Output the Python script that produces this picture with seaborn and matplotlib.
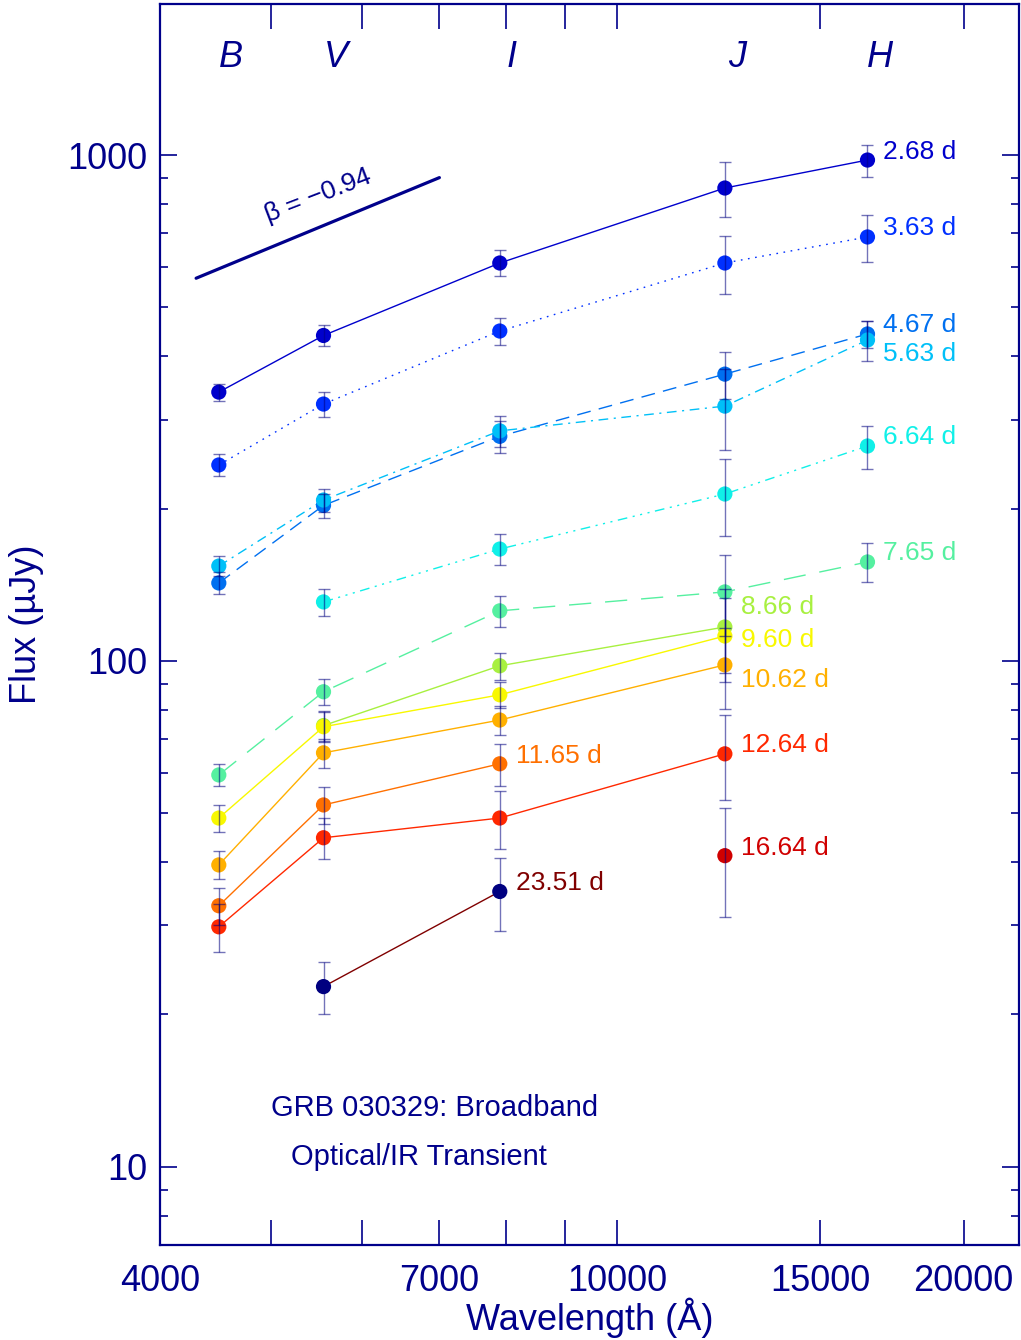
import numpy as np
import pandas as pd
import matplotlib
matplotlib.use("Agg")
import matplotlib.pyplot as plt
import seaborn as sns
from matplotlib.ticker import FixedLocator, FuncFormatter, LogLocator, NullLocator, NullFormatter

# ---------------- data ----------------
bands = ["B", "V", "I", "J", "H"]
wavelengths = [4500, 5550, 7900, 12400, 16500]

epochs = ["2.68 d", "3.63 d", "4.67 d", "5.63 d", "6.64 d", "7.65 d", "8.66 d",
          "9.60 d", "10.62 d", "11.65 d", "12.64 d", "16.64 d", "23.51 d"]

nan = np.nan
flux_268 = [340, 440, 612, 861, 978]
flux_363 = [244, 322, 449, 612, 689]
flux_467 = [142.6, 203, 278, 369, 443]
flux_563 = [154, 208, 285, 319, 431]
flux_664 = [nan, 130.8, 166.4, 213.8, 266]
flux_765 = [59.5, 86.9, 125.6, 136.9, 156.9]
flux_866 = [nan, 74.5, 97.8, 116.7, nan]
flux_960 = [48.9, 74.1, 85.7, 112.0, nan]
flux_1062 = [39.5, 65.8, 76.4, 98.2, nan]
flux_1165 = [32.8, 51.9, 62.6, nan, nan]
flux_1264 = [29.8, 44.7, 48.9, 65.5, nan]
flux_1664 = [nan, nan, nan, 41.2, nan]
flux_2351 = [nan, 22.7, 35.0, nan, nan]

err_268 = [13, 21, 36, 108, 71]
err_363 = [12, 18, 27, 80, 73]
err_467 = [7, 11, 20, 39, 28]
err_563 = [7, 11, 20, 58, 39]
err_664 = [nan, 8, 12, 37, 26]
err_765 = [3, 5, 9, 25, 14]
err_866 = [nan, 5, 6, 22, nan]
err_960 = [3, 5, 5, 21, nan]
err_1062 = [2.5, 4.3, 4.9, 18, nan]
err_1165 = [2.8, 4.3, 6, nan, nan]
err_1264 = [3.2, 4.2, 6.4, 12.5, nan]
err_1664 = [nan, nan, nan, 10.0, nan]
err_2351 = [nan, 2.7, 5.7, nan, nan]

fluxes = [flux_268, flux_363, flux_467, flux_563, flux_664, flux_765, flux_866,
          flux_960, flux_1062, flux_1165, flux_1264, flux_1664, flux_2351]
errors = [err_268, err_363, err_467, err_563, err_664, err_765, err_866,
          err_960, err_1062, err_1165, err_1264, err_1664, err_2351]

beta = 0.94
beta_lam = [4300, 7000]
beta_f0 = 571

# ---------------- styles ----------------
line_colors = ["#0000CC", "#0030FF", "#0070F0", "#00C0F8", "#10F0E8", "#55F0A0",
               "#A8F040", "#F8F800", "#FFB000", "#FF7000", "#FF2800", "#D00000", "#800000"]
marker_colors = line_colors[:-1] + ["#000080"]
dash_styles = ["", (1.2, 4), (10, 6), (7, 4, 1.5, 4), (7, 4, 1.5, 4, 1.5, 4, 1.5, 4),
               (16, 10), "", "", "", "", "", "", ""]
# label offsets in pixels (dy) relative to last point
label_dy = [8, 9, 9, -14, 9, 9, 20, -4, -15, 8, 9, 8, 8]

navy = "#00008B"

rows = []
for ep, fl, er in zip(epochs, fluxes, errors):
    for b, wl, f, e in zip(bands, wavelengths, fl, er):
        if not np.isnan(f):
            rows.append(dict(epoch=ep, band=b, wavelength=wl, flux=f, err=e))
df = pd.DataFrame(rows)

sns.set_style("ticks")
plt.rcParams["font.family"] = ["Liberation Sans", "DejaVu Sans"]

fig = plt.figure(figsize=(10.21, 13.40), dpi=100)
ax = fig.add_axes([160 / 1021, 1 - 1245 / 1340, (1019 - 160) / 1021, (1245 - 4) / 1340])
ax.set_xscale("log")
ax.set_yscale("log")

sns.lineplot(data=df, x="wavelength", y="flux", hue="epoch", style="epoch",
             hue_order=epochs, style_order=epochs,
             palette=dict(zip(epochs, line_colors)),
             dashes=dict(zip(epochs, dash_styles)),
             estimator=None, sort=True, lw=1.0, legend=False, ax=ax, zorder=2)
sns.scatterplot(data=df, x="wavelength", y="flux", hue="epoch", hue_order=epochs,
                palette=dict(zip(epochs, marker_colors)), s=120, edgecolor="none",
                legend=False, ax=ax, zorder=3)
ax.errorbar(df["wavelength"], df["flux"], yerr=df["err"], fmt="none",
            ecolor="#000080", alpha=0.55, elinewidth=1.0, capsize=4, capthick=1.0, zorder=4)

# beta power-law line
bl = np.array(beta_lam, dtype=float)
ax.plot(bl, beta_f0 * (bl / bl[0]) ** beta, color=navy, lw=2.3, zorder=2)
mid_l = np.sqrt(bl[0] * bl[1])
ax.annotate("\u03b2 = \u22120.94", xy=(mid_l, beta_f0 * (mid_l / bl[0]) ** beta),
            xytext=(0, 32), textcoords="offset pixels", ha="center", va="center",
            rotation=21, fontsize=19, color=navy)

# epoch labels
for i, ep in enumerate(epochs):
    sub = df[df["epoch"] == ep]
    last = sub.iloc[-1]
    ax.annotate(ep, xy=(last["wavelength"], last["flux"]), xytext=(16, label_dy[i]),
                textcoords="offset pixels", ha="left", va="center", fontsize=19,
                color=line_colors[i])

# band labels
for b, wl in zip(bands, wavelengths):
    ax.annotate(b, xy=(wl, 0.957), xycoords=("data", "axes fraction"),
                xytext=(12, 0), textcoords="offset pixels", ha="center", va="center",
                fontsize=26, style="italic", color=navy)

ax.text(0.32, 0.1104, "GRB 030329: Broadband", transform=ax.transAxes,
        ha="center", va="center", fontsize=21, color=navy)
ax.text(0.3015, 0.0709, "Optical/IR Transient", transform=ax.transAxes,
        ha="center", va="center", fontsize=21, color=navy)

ax.set_xlim(4000, 22350)
ax.set_ylim(7.0, 1990)

xt = [4000, 5000, 6000, 7000, 8000, 9000, 10000, 15000, 20000]
xt_lab = {4000, 7000, 10000, 15000, 20000}
ax.xaxis.set_major_locator(FixedLocator(xt))
ax.xaxis.set_major_formatter(FuncFormatter(lambda v, p: f"{int(round(v))}" if int(round(v)) in xt_lab else ""))
ax.xaxis.set_minor_locator(NullLocator())
ax.xaxis.set_minor_formatter(NullFormatter())

ax.yaxis.set_major_locator(FixedLocator([10, 100, 1000]))
ax.yaxis.set_major_formatter(FuncFormatter(lambda v, p: f"{int(round(v))}"))
ax.yaxis.set_minor_locator(LogLocator(base=10, subs=np.arange(2, 10)))
ax.yaxis.set_minor_formatter(NullFormatter())

ax.tick_params(axis="x", which="major", direction="in", length=18, width=1.2,
               top=True, bottom=True, color=navy, labelcolor=navy, labelsize=26, pad=14)
ax.tick_params(axis="y", which="major", direction="in", length=12, width=1.2,
               left=True, right=True, color=navy, labelcolor=navy, labelsize=26, pad=9)
ax.tick_params(axis="y", which="minor", direction="in", length=6, width=1.2,
               left=True, right=True, color=navy)

for sp in ax.spines.values():
    sp.set_color(navy)
    sp.set_linewidth(1.6)

ax.set_xlabel("Wavelength (\u00c5)", fontsize=26, color=navy)
ax.set_ylabel("Flux (\u00b5Jy)", fontsize=26, color=navy)
ax.xaxis.set_label_coords(0.5, 1 - (1318 - 4) / 1241)
ax.yaxis.set_label_coords((27 - 160) / 859, 0.5)
ax.xaxis.label.set_va("center")
ax.yaxis.label.set_va("center")

fig.savefig("out.png", dpi=100)
